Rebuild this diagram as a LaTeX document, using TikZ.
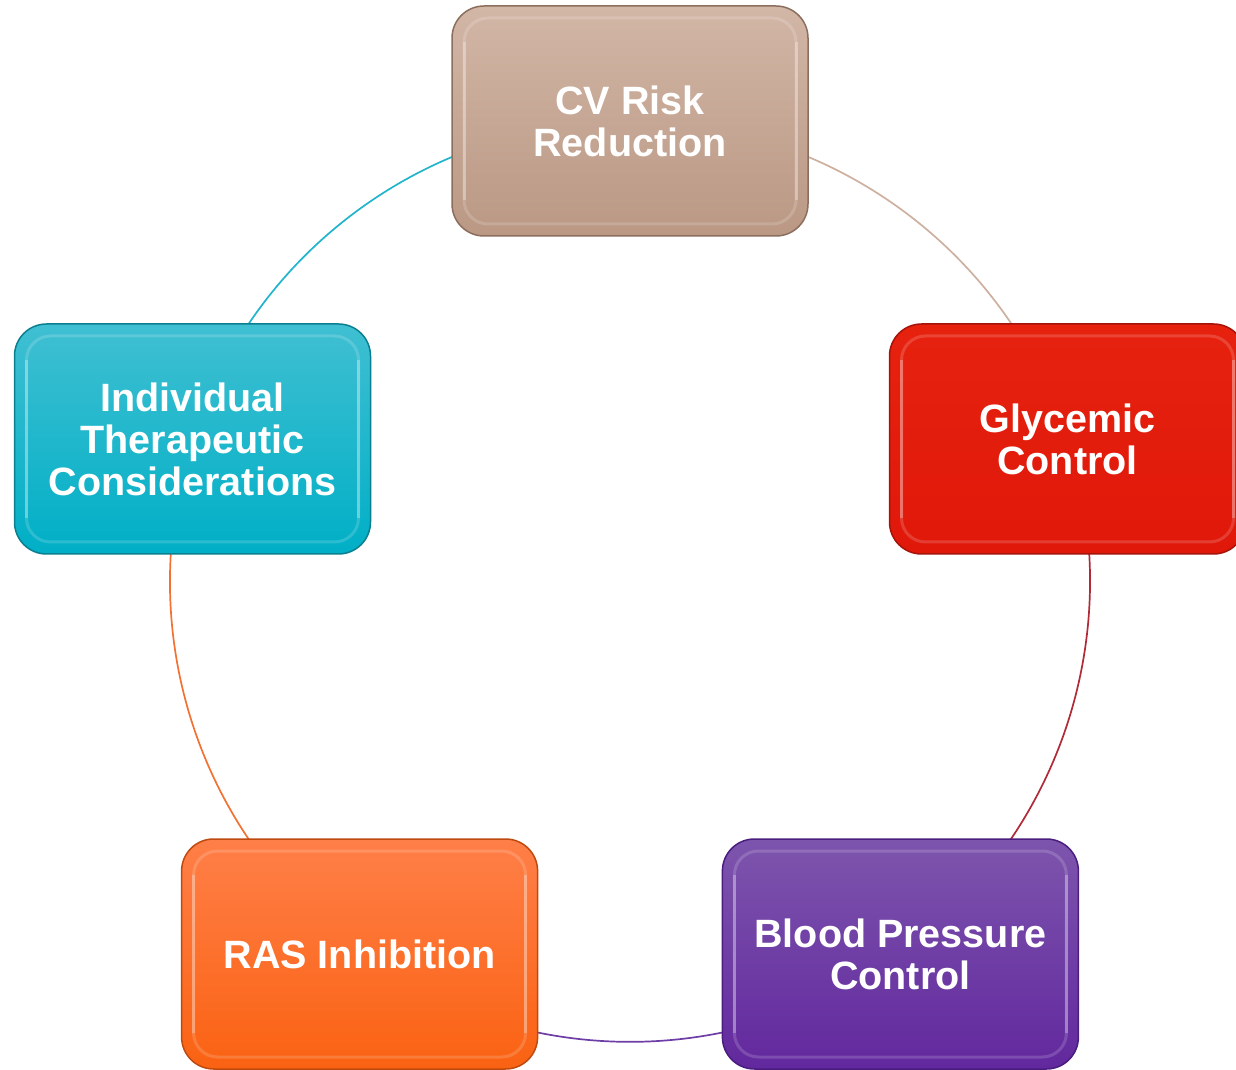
\documentclass[tikz,border=0pt]{standalone}
\usepackage{fontspec}
\setmainfont{Liberation Sans}
\usetikzlibrary{calc,backgrounds}

\definecolor{cvTop}{HTML}{D2B6A6}
\definecolor{cvBot}{HTML}{BA9884}
\definecolor{cvRim}{HTML}{8C6E5E}
\definecolor{glTop}{HTML}{E6220F}
\definecolor{glBot}{HTML}{E0180A}
\definecolor{glRim}{HTML}{A5140A}
\definecolor{bpTop}{HTML}{7D55AD}
\definecolor{bpBot}{HTML}{62289E}
\definecolor{bpRim}{HTML}{4A1D7E}
\definecolor{raTop}{HTML}{FF7F48}
\definecolor{raBot}{HTML}{FA6212}
\definecolor{raRim}{HTML}{BE4A10}
\definecolor{inTop}{HTML}{40BFD2}
\definecolor{inBot}{HTML}{00AFC6}
\definecolor{inRim}{HTML}{0A7F90}

\definecolor{cvArc}{HTML}{CDB0A0}
\definecolor{glArc}{HTML}{B02A38}
\definecolor{bpArc}{HTML}{6E3EA6}
\definecolor{raArc}{HTML}{F27234}
\definecolor{inArc}{HTML}{22B4CC}

\tikzset{
  stepbox/.style={
    rounded corners=32pt, minimum width=356pt, minimum height=230pt,
    top color=#1Top, bottom color=#1Bot, draw=#1Rim, line width=1.5pt,
    text=white, align=center, inner sep=0pt,
    font=\fontsize{39.5}{42}\selectfont\bfseries,
    path picture={
      \draw[white, draw opacity=.16, line width=3pt, rounded corners=24pt]
        ($(path picture bounding box.south west)+(12pt,12pt)$) rectangle
        ($(path picture bounding box.north east)-(12pt,12pt)$);
      \draw[white, draw opacity=.28, line width=3pt]
        ($(path picture bounding box.south west)+(12pt,36pt)$) --
        ($(path picture bounding box.north west)+(12pt,-36pt)$);
      \draw[white, draw opacity=.28, line width=3pt]
        ($(path picture bounding box.south east)+(-12pt,36pt)$) --
        ($(path picture bounding box.north east)+(-12pt,-36pt)$);
    }
  },
  ring/.style={line width=1.7pt}
}

\begin{document}
\begin{tikzpicture}[x=1pt,y=1pt]
  \useasboundingbox (0,0) rectangle (1236,1069);
  \clip (0,0) rectangle (1236,1069);

  % five stages on a ring of radius 460pt centred at (630,487)
  \node[stepbox=cv] (cv) at (630,948)    {CV Risk\\Reduction};
  \node[stepbox=gl] (gl) at (1067.5,630) {Glycemic\\Control};
  \node[stepbox=bp] (bp) at (900.4,115)  {Blood Pressure\\Control};
  \node[stepbox=ra] (ra) at (359.6,115)  {RAS Inhibition};
  \node[stepbox=in] (in) at (192.5,630)  {Individual\\Therapeutic\\Considerations};

  % ring segments between consecutive stages, behind the boxes
  \begin{pgfonlayer}{background}
    \draw[ring, cvArc] (cv.center) arc[start angle=90,   end angle=18,   radius=460];
    \draw[ring, glArc] (gl.center) arc[start angle=18,   end angle=-54,  radius=460];
    \draw[ring, bpArc] (bp.center) arc[start angle=-54,  end angle=-126, radius=460];
    \draw[ring, raArc] (ra.center) arc[start angle=-126, end angle=-198, radius=460];
    \draw[ring, inArc] (in.center) arc[start angle=162,  end angle=90,   radius=460];
  \end{pgfonlayer}
\end{tikzpicture}
\end{document}
